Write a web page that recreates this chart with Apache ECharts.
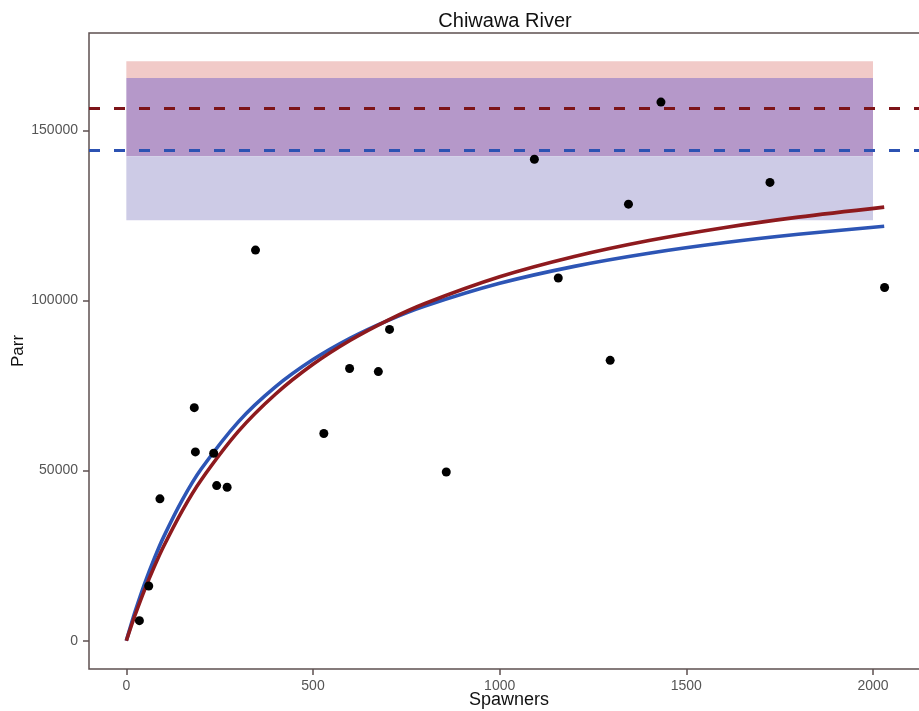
<!DOCTYPE html>
<html>
<head>
<meta charset="utf-8">
<script src="https://cdn.jsdelivr.net/npm/echarts@6/dist/echarts.min.js"></script>
<style>
html,body{margin:0;padding:0;background:#fff;}
#chart{width:919px;height:711px;}
</style>
</head>
<body>
<div id="chart"></div>
<script>
// ---- data ----
var spawners = [35, 60, 90, 182, 185, 234, 242, 270, 346, 529, 598, 675, 705, 857, 1093, 1157, 1296, 1345, 1432, 1724, 2031];
var parr     = [5900, 16100, 41700, 68500, 55500, 55100, 45600, 45100, 114800, 60900, 80000, 79100, 91500, 49600, 141500, 106600, 82400, 128300, 158300, 134700, 103800];

var curveS     = [0, 10, 25, 50, 75, 100, 150, 200, 300, 400, 500, 600, 700, 800, 1000, 1200, 1400, 1600, 1800, 2030];
var blueCurve  = [0, 3770, 9070, 17070, 24180, 30530, 41400, 50380, 64330, 74670, 82630, 88960, 94100, 98370, 105040, 110020, 113870, 116940, 119440, 121800];
var redCurve   = [0, 3310, 8010, 15240, 21800, 27780, 38270, 47190, 61510, 72510, 81240, 88320, 94180, 99120, 106960, 112920, 117610, 121380, 124490, 127440];

var redBand  = [142400, 170300];   // [low, high]
var blueBand = [123600, 165400];   // [low, high]
var bandX    = [0, 2000];
var redLevel  = 156600;
var blueLevel = 144100;

var xTicks = [0, 500, 1000, 1500, 2000];
var yTicks = [0, 50000, 100000, 150000];

// ---- chart ----
function pairs(xs, ys){ return xs.map(function(x,i){ return [x, ys[i]]; }); }
function plain(v){ return String(v); }

var FONT = 'Liberation Sans, Arial, sans-serif';
var AX = '#5e5050';

var chart = echarts.init(document.getElementById('chart'), null, {renderer:'canvas'});
chart.setOption({
  animation: false,
  backgroundColor: '#ffffff',
  textStyle: {fontFamily: FONT},
  graphic: [{
    type: 'text', x: 505, y: 21,
    style: {text: 'Chiwawa River', fontFamily: FONT, fontSize: 20, fill: '#111',
            textAlign: 'center', textVerticalAlign: 'middle'}
  }],
  grid: {left: 89, top: 33, width: 840, bottom: 42, show: true,
         outerBoundsMode: 'none', containLabel: false,
         borderColor: AX, borderWidth: 1.5, backgroundColor: 'transparent'},
  xAxis: {
    type: 'value', min: -100, max: 2150,
    name: 'Spawners', nameLocation: 'middle', nameGap: 22, nameMoveOverlap: false,
    nameTextStyle: {fontSize: 18, color: '#111', fontFamily: FONT},
    axisLine: {show: false, onZero: false},
    axisTick: {show: true, length: 6, customValues: xTicks, lineStyle: {color: AX, width: 1.5}},
    axisLabel: {customValues: xTicks, formatter: plain, fontSize: 14, color: '#555', margin: 10, fontFamily: FONT},
    splitLine: {show: false}
  },
  yAxis: {
    type: 'value', min: -8300, max: 178600,
    name: 'Parr', nameLocation: 'middle', nameGap: 62, nameMoveOverlap: false,
    nameTextStyle: {fontSize: 17, color: '#111', fontFamily: FONT},
    axisLine: {show: false, onZero: false},
    axisTick: {show: true, length: 6, customValues: yTicks, lineStyle: {color: AX, width: 1.5}},
    axisLabel: {customValues: yTicks, formatter: plain, fontSize: 14, color: '#555', margin: 11, fontFamily: FONT},
    splitLine: {show: false}
  },
  series: [
    {
      type: 'line', data: [], z: 1, silent: true,
      markArea: {
        silent: true,
        data: [
          [{xAxis: bandX[0], yAxis: blueBand[1], itemStyle: {color: '#f1cac8'}}, {xAxis: bandX[1], yAxis: redBand[1]}],
          [{xAxis: bandX[0], yAxis: redBand[0], itemStyle: {color: '#b598c9'}}, {xAxis: bandX[1], yAxis: blueBand[1]}],
          [{xAxis: bandX[0], yAxis: blueBand[0], itemStyle: {color: '#cdcbe6'}}, {xAxis: bandX[1], yAxis: redBand[0]}]
        ]
      },
      markLine: {
        silent: true, symbol: 'none', label: {show: false},
        data: [
          {yAxis: redLevel,  lineStyle: {color: '#7d1418', width: 3, type: [11, 14]}},
          {yAxis: blueLevel, lineStyle: {color: '#2c52b2', width: 3, type: [11, 14]}}
        ]
      }
    },
    {
      type: 'line', data: pairs(curveS, blueCurve), z: 3, smooth: 0.3,
      showSymbol: false, lineStyle: {color: '#2d55b5', width: 3.6}
    },
    {
      type: 'line', data: pairs(curveS, redCurve), z: 4, smooth: 0.3,
      showSymbol: false, lineStyle: {color: '#8e1a1e', width: 3.6}
    },
    {
      type: 'scatter', data: pairs(spawners, parr), z: 5,
      symbol: 'circle', symbolSize: 9, itemStyle: {color: '#000', opacity: 1}
    }
  ]
});
</script>
</body>
</html>
